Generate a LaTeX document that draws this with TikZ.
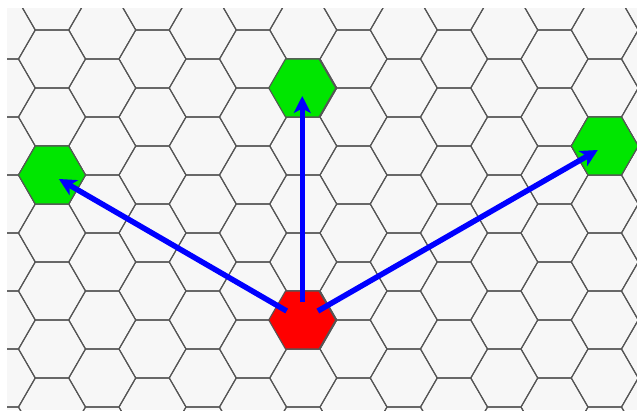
\documentclass[tikz,border=0pt]{standalone}
\usetikzlibrary{shapes.geometric,arrows.meta}
\definecolor{gridline}{HTML}{555555}
\definecolor{paper}{HTML}{F7F7F7}
\definecolor{hexgreen}{HTML}{00E600}
\begin{document}
\begin{tikzpicture}[x=1pt,y=-1pt,
  gridedge/.style={draw=gridline,line width=1.1pt,line join=round},
  hexcell/.style={regular polygon,regular polygon sides=6,minimum size=67pt,
    inner sep=0pt,outer sep=0pt,draw=gridline,line width=1.1pt},
  link/.style={draw=blue,line width=5.5pt,shorten <=18pt,shorten >=8pt,
    -{Stealth[length=17pt,width=17pt,inset=4.5pt]}}]
\useasboundingbox (0,0) rectangle (637,410);
\fill[paper] (7,8) rectangle (637,410);
% honeycomb background, flat-topped cells
\begin{scope}
  \clip (7,8) rectangle (637,410);
  \foreach \i in {-1,...,13}{
    \pgfmathsetmacro{\cx}{52+50.25*\i}
    \pgfmathsetmacro{\oy}{isodd(\i) ? 30 : 59}
    \foreach \k in {-1,...,7}{
      \pgfmathsetmacro{\cy}{\oy+58*\k}
      \draw[gridedge] (\cx-33.5,\cy) -- (\cx-16.75,\cy-29) -- (\cx+16.75,\cy-29)
        -- (\cx+33.5,\cy) -- (\cx+16.75,\cy+29) -- (\cx-16.75,\cy+29) -- cycle;
    }
  }
\end{scope}
% start cell and the three target cells
\node[hexcell,fill=red] (start) at (302.25,320) {};
\node[hexcell,fill=hexgreen] (up) at (302.25,88) {};
\node[hexcell,fill=hexgreen] (left) at (52,175) {};
\node[hexcell,fill=hexgreen] (right) at (604.75,146) {};
% moves
\draw[link] (start.center) -- (up.center);
\draw[link] (start.center) -- (left.center);
\draw[link] (start.center) -- (right.center);
\end{tikzpicture}
\end{document}
